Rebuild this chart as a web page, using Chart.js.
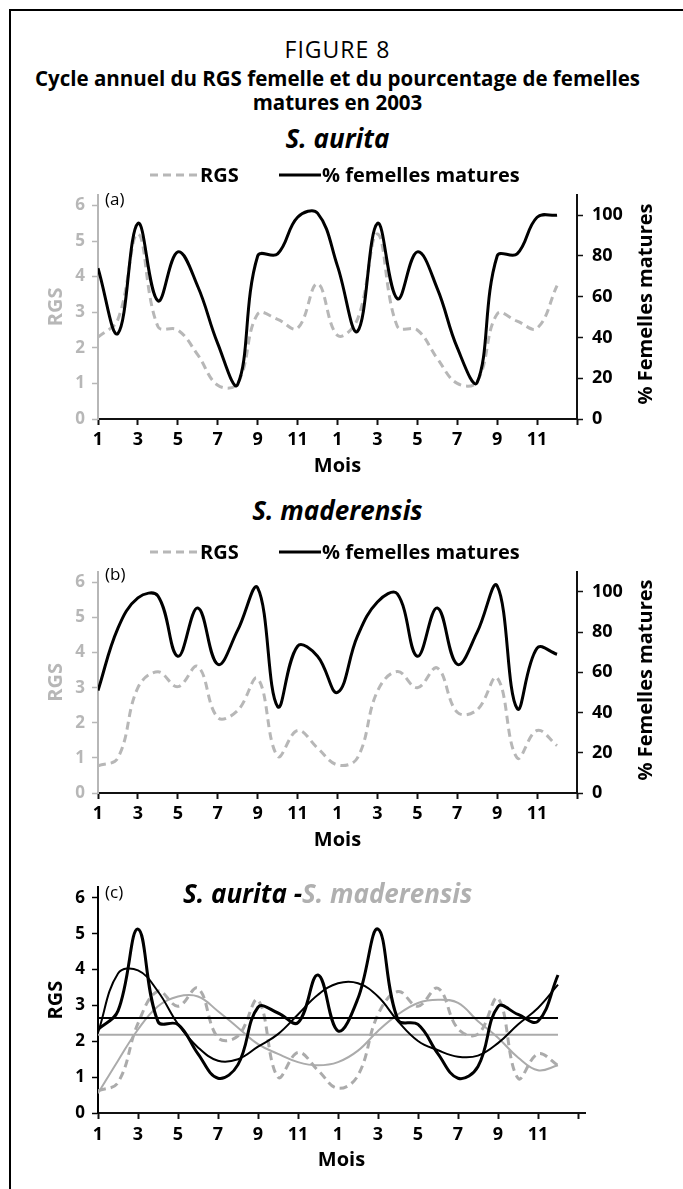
<!DOCTYPE html>
<html lang="fr">
<head>
<meta charset="utf-8">
<script src="https://cdn.jsdelivr.net/npm/chart.js@4.4.0/dist/chart.umd.min.js"></script>
<style>
  body { margin: 0; width: 683px; height: 1189px; background: #fff; position: relative; overflow: hidden;
         font-family: 'Open Sans', 'DejaVu Sans', sans-serif; color: #000; }
  .cadre { position: absolute; left: 9px; top: 9px; width: 700px; height: 1200px;
           border-left: 2px solid #000; border-top: 2px solid #000; }
  .ligne { position: absolute; left: 0; width: 675px; height: 30px; line-height: 30px;
           text-align: center; white-space: nowrap; }
  .fig { font-size: 23px; letter-spacing: 1px; }
  .titre { font-size: 20.5px; font-weight: bold; }
  .espece { font-size: 26px; font-weight: bold; font-style: italic; }
  .leg { position: absolute; height: 30px; line-height: 30px; font-size: 20px; font-weight: bold; white-space: nowrap; }
  .lettre { position: absolute; font-size: 17px; line-height: 20px; }
  .axe-droit { position: absolute; left: 644px; font-size: 20px; font-weight: bold; white-space: nowrap;
               transform: translate(-50%, -50%) rotate(-90deg); }
  canvas { position: absolute; left: 0; }
  svg { position: absolute; }
</style>
</head>
<body>
<div class="cadre"></div>

<canvas id="panneauA" width="683" height="305" style="top:175px"></canvas>
<canvas id="panneauB" width="683" height="305" style="top:552px"></canvas>
<canvas id="panneauC" width="683" height="305" style="top:870px"></canvas>

<div class="ligne fig" style="top:34px">FIGURE 8</div>
<div class="ligne titre" style="top:63px">Cycle annuel du RGS femelle et du pourcentage de femelles</div>
<div class="ligne titre" style="top:87px">matures en 2003</div>

<div class="ligne espece" style="top:123px">S. aurita</div>
<svg style="left:150px;top:165px" width="48" height="20"><line x1="0" y1="10" x2="48" y2="10" stroke="#b7b7b7" stroke-width="3" stroke-dasharray="8 5"/></svg>
<div class="leg" style="left:200px;top:160px">RGS</div>
<svg style="left:279px;top:165px" width="42" height="20"><line x1="0" y1="10" x2="42" y2="10" stroke="#000" stroke-width="3"/></svg>
<div class="leg" style="left:322px;top:160px">% femelles matures</div>
<div class="lettre" style="left:105px;top:189px">(a)</div>
<div class="axe-droit" style="top:304px">% Femelles matures</div>

<div class="ligne espece" style="top:495px">S. maderensis</div>
<svg style="left:150px;top:542px" width="48" height="20"><line x1="0" y1="10" x2="48" y2="10" stroke="#b7b7b7" stroke-width="3" stroke-dasharray="8 5"/></svg>
<div class="leg" style="left:200px;top:537px">RGS</div>
<svg style="left:279px;top:542px" width="42" height="20"><line x1="0" y1="10" x2="42" y2="10" stroke="#000" stroke-width="3"/></svg>
<div class="leg" style="left:322px;top:537px">% femelles matures</div>
<div class="lettre" style="left:105px;top:564px">(b)</div>
<div class="axe-droit" style="top:680px">% Femelles matures</div>

<div class="lettre" style="left:105px;top:882px">(c)</div>
<div class="espece" style="position:absolute;left:183px;top:878px;line-height:30px;white-space:nowrap">S. aurita -<span style="color:#b0b0b0">S. maderensis</span></div>

<script>
// mois de janvier 2002 à décembre 2003 (axe des abscisses)
const mois = [1, 2, 3, 4, 5, 6, 7, 8, 9, 10, 11, 12, 1, 2, 3, 4, 5, 6, 7, 8, 9, 10, 11, 12];

// (a) S. aurita
const rgsAurita = [2.3, 2.8, 5.2, 2.6, 2.5, 1.8, 0.95, 1.0, 2.95, 2.8, 2.55, 3.8,
                   2.35, 2.8, 5.2, 2.6, 2.5, 1.7, 1.0, 1.05, 2.95, 2.75, 2.55, 3.75];
const maturesAurita = [74, 42, 96, 58, 82, 65, 37, 17, 80, 81, 99, 101,
                       75, 43, 96, 59, 82, 64, 35, 18, 80, 81, 99, 100];

// (b) S. maderensis
const rgsMaderensis = [0.77, 1.0, 3.0, 3.45, 3.03, 3.6, 2.15, 2.35, 3.26, 1.05, 1.78, 1.28,
                       0.8, 1.0, 2.9, 3.46, 3.0, 3.56, 2.3, 2.37, 3.28, 1.0, 1.78, 1.35];
const maturesMaderensis = [51, 82, 97, 98, 68, 92, 64, 81, 102, 43, 73, 68,
                           50, 78, 95, 99, 68, 92, 64, 80, 103, 42, 72, 69];

// (c) RGS des deux espèces, courbes ajustées et moyennes
const rgsAuritaC = [2.33, 2.85, 5.13, 2.55, 2.47, 1.65, 0.97, 1.35, 2.95, 2.79, 2.52, 3.85,
                    2.29, 3.2, 5.13, 2.6, 2.47, 1.65, 0.97, 1.3, 2.97, 2.75, 2.56, 3.85];
const ajustAurita = [2.24, 3.89, 3.98, 3.39, 2.48, 1.83, 1.46, 1.5, 1.85, 2.2, 2.75, 3.3,
                     3.62, 3.62, 3.25, 2.56, 2.01, 1.75, 1.57, 1.6, 1.95, 2.47, 2.93, 3.58];
const rgsMaderensisC = [0.62, 0.85, 2.5, 3.4, 2.98, 3.48, 2.1, 2.15, 3.15, 1.0, 1.69, 1.19,
                        0.69, 1.05, 2.75, 3.39, 2.98, 3.48, 2.35, 2.2, 3.2, 0.97, 1.65, 1.33];
const ajustMaderensis = [0.55, 1.46, 2.33, 2.98, 3.25, 3.25, 2.84, 2.38, 1.92, 1.65, 1.42, 1.33,
                         1.42, 1.74, 2.29, 2.75, 3.07, 3.16, 3.07, 2.56, 2.1, 1.55, 1.19, 1.33];
const moyenneAurita = [2.65, 2.65];
const moyenneMaderensis = [2.18, 2.18];

const FONT = "'Open Sans', 'DejaVu Sans', sans-serif";
const GRIS = '#b7b7b7';
const GRIS_C = '#ababab';
const NOIR = '#000';

const pts = arr => arr.map((v, i) => ({ x: i, y: v }));
const horiz = arr => [{ x: 0, y: arr[0] }, { x: mois.length - 1, y: arr[1] }];

function axeX(boxH, padLabel, padTitre, max) {
  return {
    type: 'linear', position: 'bottom', min: 0, max: max,
    afterFit: s => { s.height = boxH; },
    border: { color: '#111', width: 2 },
    grid: { drawOnChartArea: false, drawTicks: true, tickLength: 6, tickWidth: 2, color: '#111' },
    ticks: {
      stepSize: 2, includeBounds: false, autoSkip: false, maxRotation: 0, padding: padLabel,
      color: NOIR, font: { family: FONT, size: 18, weight: 'bold' },
      callback: v => (v < mois.length ? String(mois[v]) : '')
    },
    title: { display: true, text: 'Mois', color: NOIR, font: { family: FONT, size: 20, weight: 'bold' },
             padding: { top: 0, bottom: padTitre } }
  };
}

function axeRGS(couleur) {
  return {
    type: 'linear', position: 'left', min: 0, max: 6.3,
    afterFit: s => { s.width = 98; },
    border: { color: couleur, width: 2 },
    grid: { drawOnChartArea: false, tickLength: 6, tickWidth: 1.5, color: couleur },
    ticks: { stepSize: 1, includeBounds: false, padding: 7, color: couleur,
             font: { family: FONT, size: 17, weight: 'bold' } },
    title: { display: true, text: 'RGS', color: couleur, font: { family: FONT, size: 20, weight: 'bold' },
             padding: { top: 44, bottom: 0 } }
  };
}

function axePct() {
  return {
    type: 'linear', position: 'right', min: 0, max: 110,
    afterFit: s => { s.width = 106; },
    border: { color: '#111', width: 2 },
    grid: { drawOnChartArea: false, tickLength: 6, tickWidth: 1.5, color: '#111' },
    ticks: { stepSize: 20, includeBounds: false, padding: 9, color: NOIR,
             font: { family: FONT, size: 18, weight: 'bold' } }
  };
}

const options = (scales, padRight) => ({
  responsive: false,
  animation: false,
  layout: { padding: { top: 14, left: 0, right: padRight, bottom: 0 } },
  elements: { point: { radius: 0 }, line: { tension: 0.4 } },
  plugins: { legend: { display: false }, tooltip: { enabled: false } },
  scales: scales
});

function panneauMatures(id, rgs, matures, boxH, padTitre) {
  new Chart(document.getElementById(id), {
    type: 'line',
    data: {
      datasets: [
        { label: '% femelles matures', data: pts(matures), yAxisID: 'y2',
          borderColor: NOIR, borderWidth: 3 },
        { label: 'RGS', data: pts(rgs), yAxisID: 'y',
          borderColor: GRIS, borderWidth: 3, borderDash: [8, 5] }
      ]
    },
    options: options({ x: axeX(boxH, 4, padTitre, 24), y: axeRGS(GRIS), y2: axePct() }, 0)
  });
}

panneauMatures('panneauA', rgsAurita, maturesAurita, 61, 2);
panneauMatures('panneauB', rgsMaderensis, maturesMaderensis, 64, 5);

new Chart(document.getElementById('panneauC'), {
  type: 'line',
  data: {
    datasets: [
      { label: 'RGS S. aurita', data: pts(rgsAuritaC), borderColor: NOIR, borderWidth: 3 },
      { label: 'Ajustement S. aurita', data: pts(ajustAurita), borderColor: NOIR, borderWidth: 2 },
      { label: 'Moyenne S. aurita', data: horiz(moyenneAurita), borderColor: NOIR, borderWidth: 2, tension: 0 },
      { label: 'RGS S. maderensis', data: pts(rgsMaderensisC), borderColor: GRIS_C, borderWidth: 3, borderDash: [8, 5] },
      { label: 'Ajustement S. maderensis', data: pts(ajustMaderensis), borderColor: GRIS_C, borderWidth: 2 },
      { label: 'Moyenne S. maderensis', data: horiz(moyenneMaderensis), borderColor: GRIS_C, borderWidth: 2, tension: 0 }
    ]
  },
  options: options({ x: axeX(62, 5, 3, 24.35), y: axeRGS(NOIR) }, 98)
});
</script>
</body>
</html>
